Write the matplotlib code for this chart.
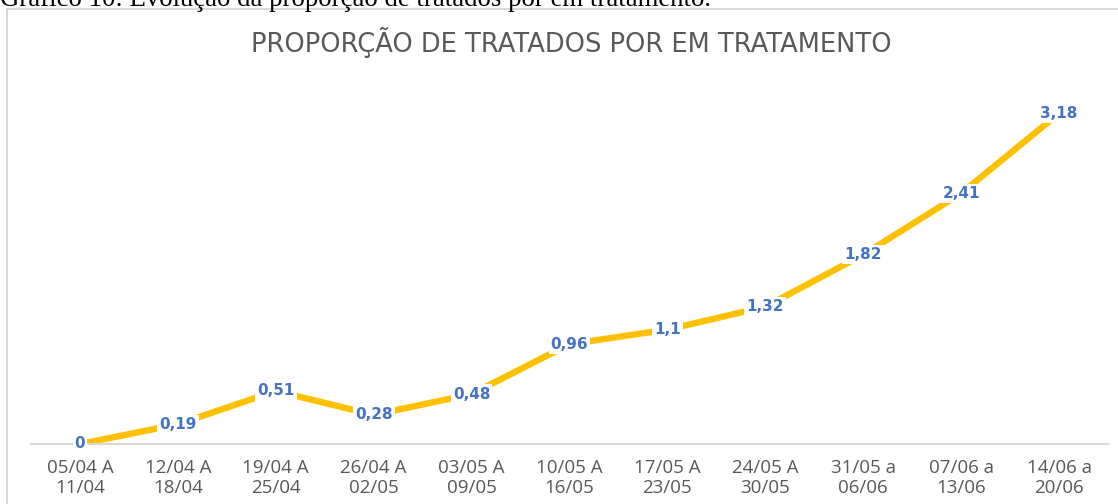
import matplotlib.pyplot as plt
from matplotlib.lines import Line2D

# dados do grafico
semanas = ["05/04 A\n11/04", "12/04 A\n18/04", "19/04 A\n25/04", "26/04 A\n02/05",
           "03/05 A\n09/05", "10/05 A\n16/05", "17/05 A\n23/05", "24/05 A\n30/05",
           "31/05 a\n06/06", "07/06 a\n13/06", "14/06 a\n20/06"]
proporcao = [0, 0.19, 0.51, 0.28, 0.48, 0.96, 1.1, 1.32, 1.82, 2.41, 3.18]
rotulos = ["0", "0,19", "0,51", "0,28", "0,48", "0,96", "1,1", "1,32", "1,82", "2,41", "3,18"]

W, H = 1118, 504
fig = plt.figure(figsize=(W / 100, H / 100), dpi=100)

# legenda do documento (cortada no topo)
fig.text(0, 1 - 5.5 / H, "Gráfico 10: Evolução da proporção de tratados por em tratamento.",
         family="Liberation Serif", fontsize=19.3, va="baseline", ha="left", color="black")

# moldura do grafico
fig.add_artist(Line2D([7 / W, 7 / W], [0, 1 - 9 / H], color="#D9D9D9", lw=1.5))
fig.add_artist(Line2D([7 / W, 1], [1 - 9 / H, 1 - 9 / H], color="#D9D9D9", lw=1.5))

ax = fig.add_axes([31 / W, 60 / H, 1077 / W, 353.6 / H])
x = range(len(proporcao))
ax.plot(x, proporcao, color="#FFC000", lw=4.6, solid_capstyle="butt", zorder=2)
for i, v in enumerate(proporcao):
    ax.text(i, v, rotulos[i], ha="center", va="center", color="#4472C4",
            fontsize=11, fontweight="bold", family="DejaVu Sans", zorder=3,
            bbox=dict(facecolor="white", edgecolor="none", pad=1.5))

ax.set_xlim(-0.5, 10.5)
ax.set_ylim(0, 3.4)
ax.set_xticks(list(x))
ax.set_xticklabels(semanas, fontsize=13.5, color="#595959", family="Open Sans", linespacing=1.2)
ax.tick_params(axis="x", length=0, pad=10.5)
ax.set_yticks([])
for s in ["top", "right", "left"]:
    ax.spines[s].set_visible(False)
ax.spines["bottom"].set_color("#D9D9D9")
ax.spines["bottom"].set_linewidth(1.5)

fig.text(571 / W, 1 - 42 / H, "PROPORÇÃO DE TRATADOS POR EM TRATAMENTO",
         ha="center", va="center", fontsize=18.5, color="#595959", family="DejaVu Sans")

fig.savefig("out.png", dpi=100)
